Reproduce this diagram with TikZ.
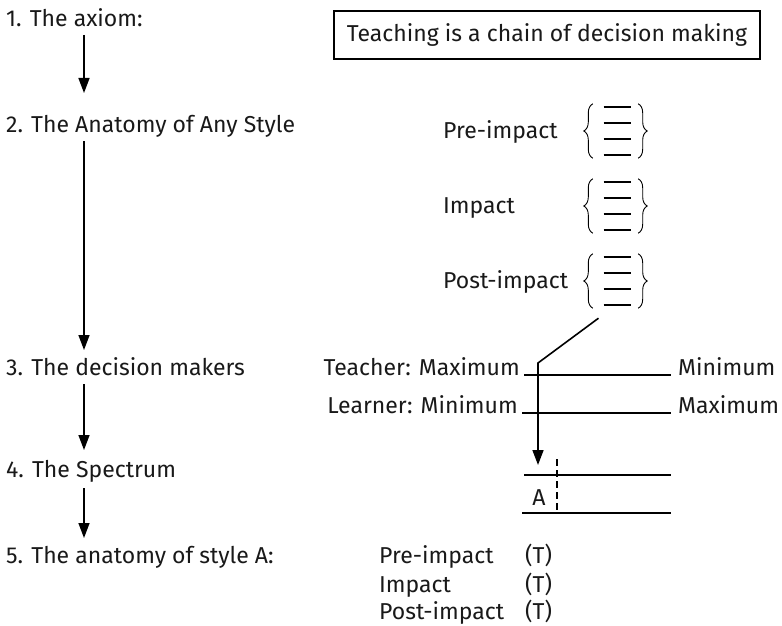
\documentclass[tikz,border=0pt]{standalone}
\usepackage{fontspec}
\setmainfont{Fira Sans}
\usetikzlibrary{arrows.meta,decorations.pathreplacing,positioning,calc}

\begin{document}
\begin{tikzpicture}[x=1pt,y=-1pt,
    every node/.style={font=\fontsize{23}{27}\selectfont,text=black!90},
    stage/.style={anchor=base west,inner sep=0pt},
    lbl/.style={anchor=base west,inner sep=0pt},
    arr/.style={line width=1.4pt,-{Triangle[length=15pt,width=11pt]}},
    bar/.style={line width=1.2pt},
    brc/.style={line width=0.9pt,decorate,decoration={brace,amplitude=9pt,aspect=0.5}},
    grp/.style={minimum width=45pt,minimum height=54pt,inner sep=0pt}
    ]
  \useasboundingbox (0,0) rectangle (782,626);

  % the five stages
  \node[stage] (s1) at (6,27) {1. The axiom:};
  \node[stage] (s2) at (6,132) {2. The Anatomy of Any Style};
  \node[stage] (s3) at (6,375) {3. The decision makers};
  \node[stage] (s4) at (6,477) {4. The Spectrum};
  \node[stage] (s5) at (6,563) {5. The anatomy of style A:};
  \coordinate (ax) at (84,0);
  \draw[arr] ([yshift=-8pt]s1.base -| ax) -- ([yshift=39pt]s2.base -| ax);
  \draw[arr] ([yshift=-9pt]s2.base -| ax) -- ([yshift=25pt]s3.base -| ax);
  \draw[arr] ([yshift=-9pt]s3.base -| ax) -- ([yshift=27pt]s4.base -| ax);
  \draw[arr] ([yshift=-11pt]s4.base -| ax) -- ([yshift=25pt]s5.base -| ax);

  % the axiom
  \node[draw,line width=1.2pt,minimum width=426pt,minimum height=48pt] (axiom) at (547,35)
    {Teaching is a chain of decision making};

  % the anatomy of any style
  \foreach \nm/\yy/\txt/\by in {pre/131/Pre-impact/138,imp/206/Impact/213,post/281/Post-impact/288}{
    \node[grp] (\nm) at (615.5,\yy) {};
    \node[lbl] (\nm-l) at (443,\by) {\txt};
    \draw[brc] (\nm.south west) -- (\nm.north west);
    \draw[brc] (\nm.north east) -- (\nm.south east);
    \foreach \dy in {-24,-8,8,24}
      \draw[bar] ($(\nm)+(-12,\dy)$) -- ++(27,0);
  }

  % the decision makers
  \node[anchor=base east,inner sep=4pt] (tch) at (524,375) {Teacher: Maximum};
  \node[anchor=base west,inner sep=7pt] (tmin) at (671,375) {Minimum};
  \node[anchor=base east,inner sep=4pt] (lrn) at (522,413) {Learner: Minimum};
  \node[anchor=base west,inner sep=7pt] (lmax) at (671,413) {Maximum};
  \draw[bar] (tch.base east) -- (tmin.base west);
  \draw[bar] (lrn.base east) -- (lmax.base west);

  % the spectrum
  \node[anchor=base,inner sep=0pt] (sA) at (539,505) {A};
  \coordinate (sp1) at (524,475);
  \coordinate (sp2) at (671,475);
  \coordinate (sp3) at (522,513);
  \coordinate (sp4) at (671,513);
  \coordinate (dtop) at (557,459);
  \draw[bar] (sp1) -- (sp2);
  \draw[bar] (sp3) -- (sp4);
  \draw[bar,dash pattern=on 7pt off 4pt] (dtop) -- (dtop |- sp3);
  \coordinate (kink) at (538,363);
  \draw[arr,line width=1.6pt] ([shift={(-17,10)}]post.south) -- (kink) -- ([yshift=40pt]sA.base -| kink);

  % the anatomy of style A
  \node[lbl] (a1) at (379,563) {Pre-impact};
  \node[lbl] (a2) at (379,592) {Impact};
  \node[lbl] (a3) at (379,619) {Post-impact};
  \foreach \i in {1,2,3}
    \node[lbl] (t\i) at (525,0 |- a\i.base) {(T)};
\end{tikzpicture}
\end{document}
